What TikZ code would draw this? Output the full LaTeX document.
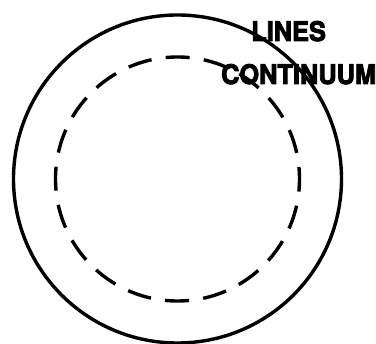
\documentclass[tikz,border=0pt]{standalone}
\usepackage{fontspec}
\setmainfont{TeX Gyre Heros}
\usepackage{tikz}
\usetikzlibrary{positioning}
\newcommand{\heavytext}[1]{\special{pdf:literal direct 2 Tr 0.9 w}#1\special{pdf:literal direct 0 Tr}}
\tikzstyle{ring} = [circle, draw=black, line width=3.4pt, inner sep=0pt]
\tikzstyle{dashring} = [ring, dash pattern=on 24pt off 14.3pt, dash phase=12pt]
\tikzstyle{tag} = [anchor=base west, inner sep=0pt, xscale=0.94, transform shape, font=\fontsize{27}{30}\selectfont\bfseries]

\begin{document}
\begin{tikzpicture}[x=1pt, y=-1pt]
  \useasboundingbox (0,0) rectangle (376,344);
  \node[ring, minimum size=328pt] (outer) at (177.5,179) {};
  \node[dashring, minimum size=244pt] (inner) at (177.5,179) {};
  \node[tag] (lines) at (251,41) {\heavytext{LINES}};
  \node[tag] (cont) at (221,84) {\heavytext{CONTINUUM}};
\end{tikzpicture}
\end{document}
